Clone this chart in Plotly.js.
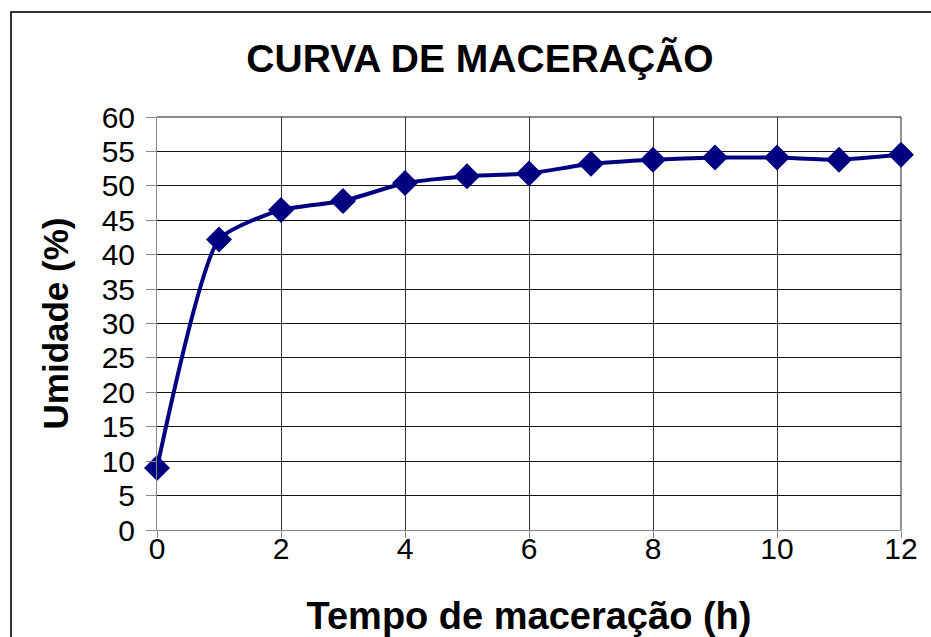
<!DOCTYPE html>
<html>
<head>
<meta charset="utf-8">
<script src="https://cdn.plot.ly/plotly-3.0.1.min.js"></script>
<style>
html, body { margin: 0; padding: 0; overflow: hidden; background: #fff; }
#chart { width: 931px; height: 637px; position: absolute; left: 0; top: 0; }
#frame { position: absolute; left: 10px; top: 11px; width: 960px; height: 700px;
         border: 2px solid #333; pointer-events: none; }
</style>
</head>
<body>
<div id="chart"></div>
<div id="frame"></div>
<script>
const hours = [0, 1, 2, 3, 4, 5, 6, 7, 8, 9, 10, 11, 12];
const moisture = [9.0, 42.2, 46.5, 47.8, 50.4, 51.4, 51.8, 53.2, 53.8, 54.1, 54.1, 53.8, 54.5];
const xTicks = [0, 2, 4, 6, 8, 10, 12];
const yTicks = [0, 5, 10, 15, 20, 25, 30, 35, 40, 45, 50, 55, 60];
const chartTitle = 'CURVA DE MACERAÇÃO';
const xTitle = 'Tempo de maceração (h)';
const yTitle = 'Umidade (%)';

const FONT = 'Arial, "Liberation Sans", sans-serif';

const trace = {
  x: hours, y: moisture, type: 'scatter', mode: 'lines+markers',
  line: { color: '#000080', width: 4, shape: 'spline', smoothing: 0.55 },
  marker: { symbol: 'diamond', size: 20, color: '#000080' },
  cliponaxis: false, hoverinfo: 'none'
};

const layout = {
  width: 931, height: 637,
  margin: { l: 157, r: 30, t: 117, b: 107, pad: 0 },
  paper_bgcolor: '#fff', plot_bgcolor: '#fff',
  showlegend: false,
  font: { family: FONT, color: '#000', size: 30 },
  title: { text: '<b>' + chartTitle + '</b>', font: { family: FONT, size: 39, color: '#000' },
           x: 480 / 931, xanchor: 'center', y: 1 - 58 / 637, yanchor: 'middle' },
  xaxis: {
    range: [0, 12], tickvals: xTicks, ticktext: xTicks.map(String),
    showgrid: true, gridcolor: '#333', gridwidth: 1,
    showline: true, linecolor: '#888', linewidth: 1,
    ticks: 'outside', ticklen: 7, tickcolor: '#888', tickwidth: 1,
    ticklabelstandoff: -15,
    tickfont: { family: FONT, size: 30, color: '#000' },
    zeroline: false, fixedrange: true, automargin: false,
    title: { text: '<b>' + xTitle + '</b>', font: { family: FONT, size: 38, color: '#000' }, standoff: 42 }
  },
  yaxis: {
    range: [0, 60], tickvals: yTicks, ticktext: yTicks.map(String),
    showgrid: true, gridcolor: '#111', gridwidth: 1,
    showline: true, linecolor: '#888', linewidth: 1,
    ticks: 'outside', ticklen: 10, tickcolor: '#888', tickwidth: 1,
    ticklabelstandoff: 5,
    tickfont: { family: FONT, size: 30, color: '#000' },
    zeroline: false, fixedrange: true, automargin: false,
    title: { text: '<b>' + yTitle + '</b>', font: { family: FONT, size: 35, color: '#000' }, standoff: 22 }
  },
  shapes: [
    { type: 'line', xref: 'paper', yref: 'paper', x0: 1, x1: 1, y0: 0, y1: 1,
      line: { color: '#222', width: 1 }, layer: 'below' },
    { type: 'line', xref: 'paper', yref: 'paper', x0: 0, x1: 1, y0: 1, y1: 1,
      line: { color: '#111', width: 1 }, layer: 'below' }
  ]
};

Plotly.newPlot('chart', [trace], layout, { displayModeBar: false, staticPlot: true });
</script>
</body>
</html>
